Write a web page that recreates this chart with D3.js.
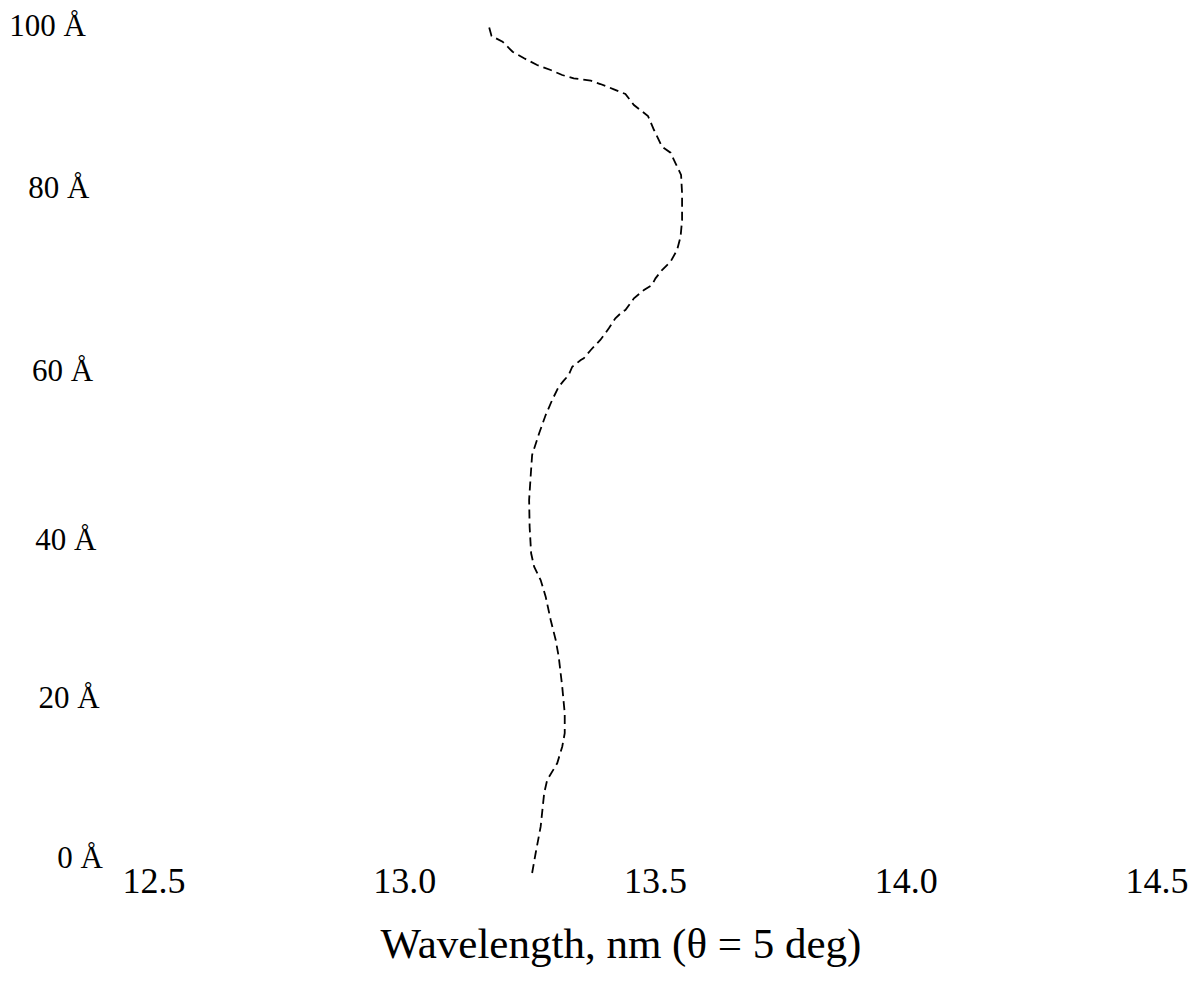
<!DOCTYPE html>
<html>
<head>
<meta charset="utf-8">
<script src="https://cdn.jsdelivr.net/npm/d3@7"></script>
<style>
  html, body { margin: 0; padding: 0; background: #fff; }
  svg { display: block; }
  text { font-family: "Liberation Serif", "Times New Roman", serif; fill: #000; }
</style>
</head>
<body>
<svg id="chart" width="1191" height="982"></svg>
<script>
// Depth profile (Å) of the peak wavelength (nm) at θ = 5 deg
const depth = [0, 2.32, 5.45, 9.38, 10.94, 12.91, 14.86, 16.44, 18.79, 21.92,
  25.45, 27.41, 29.76, 32.51, 34.47, 36.04, 37.61, 40.74, 43.88, 46.62,
  49.18, 51.73, 53.88, 55.65, 57.21, 57.92, 58.59, 59.56, 60.35, 60.55,
  61.53, 62.71, 64.08, 65.26, 66.04, 66.24, 67.61, 68.59, 69.18, 69.96,
  70.94, 71.92, 73.29, 74.86, 76.82, 79.96, 82.12, 83.49, 84.74, 85.45,
  87.41, 89.06, 90.35, 91.65, 92.2, 92.82, 93.21, 93.49, 93.88, 94.47,
  95.06, 95.85, 96.62, 97.8, 98.47, 100];
const wavelength = [13.254, 13.261, 13.271, 13.278, 13.284, 13.304, 13.314, 13.319, 13.319, 13.314,
  13.307, 13.301, 13.291, 13.281, 13.271, 13.258, 13.252, 13.249, 13.248, 13.251,
  13.254, 13.268, 13.281, 13.294, 13.307, 13.317, 13.327, 13.334, 13.351, 13.357,
  13.371, 13.390, 13.407, 13.420, 13.434, 13.440, 13.457, 13.477, 13.493, 13.500,
  13.513, 13.530, 13.543, 13.550, 13.553, 13.553, 13.551, 13.540, 13.530, 13.513,
  13.497, 13.485, 13.457, 13.440, 13.417, 13.390, 13.371, 13.337, 13.314, 13.291,
  13.264, 13.238, 13.215, 13.195, 13.173, 13.166];

// Axis ticks
const xTicks = [12.5, 13.0, 13.5, 14.0, 14.5];
const yTickLabels = ["0 Å", "20 Å", "40 Å", "60 Å", "80 Å", "100 Å"];
const yTickDepths = [1.88, 20.59, 39.18, 59.06, 80.6, 99.65];

const svg = d3.select("#chart");

const x = d3.scaleLinear().domain([12.5, 14.5]).range([154, 1157]);
const y = d3.scaleLinear().domain([0, 100]).range([873, 23]);
// the depth labels drift slightly right toward the bottom
const labelRight = d3.scaleLinear().domain([26, 857]).range([86, 103]);

// x tick labels
svg.append("g")
  .selectAll("text")
  .data(xTicks)
  .join("text")
  .attr("x", d => x(d))
  .attr("y", 893)
  .attr("text-anchor", "middle")
  .attr("font-size", 36)
  .text(d3.format(".1f"));

// depth labels
svg.append("g")
  .selectAll("text")
  .data(yTickDepths)
  .join("text")
  .attr("x", d => labelRight(y(d)))
  .attr("y", d => y(d) + 10.5)
  .attr("text-anchor", "end")
  .attr("font-size", 31)
  .text((d, i) => yTickLabels[i]);

// x axis title
svg.append("text")
  .attr("x", 621)
  .attr("y", 958)
  .attr("text-anchor", "middle")
  .attr("font-size", 43)
  .text("Wavelength, nm (θ = 5 deg)");

// profile curve
const line = d3.line()
  .x((d, i) => x(wavelength[i]))
  .y(d => y(d));

svg.append("path")
  .datum(depth)
  .attr("d", line)
  .attr("fill", "none")
  .attr("stroke", "#000")
  .attr("stroke-width", 1.8)
  .attr("stroke-dasharray", "9,5");
</script>
</body>
</html>
